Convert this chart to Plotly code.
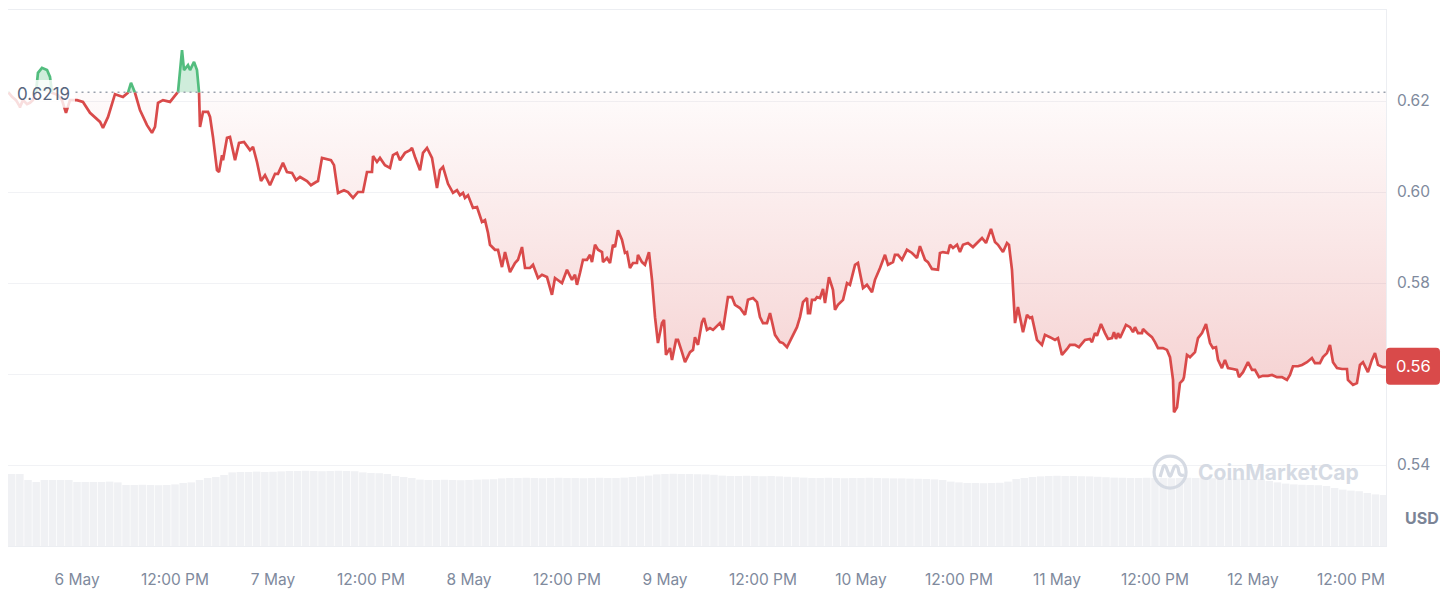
import numpy as np
import pandas as pd
import plotly.graph_objects as go

# ---------------- data ----------------
# hours since 6 May 00:00
hours = [-8.45, -7.96, -7.47, -6.98, -6.61, -6.12, -5.76, -5.39, -5.02, -4.78, -4.29, -3.67, -3.31, -3.06, -2.33, -1.84, -1.35, -0.86,
         0.0, 0.73, 1.59, 2.82, 3.18, 3.80, 4.65, 5.63, 6.24, 6.61, 7.10, 7.71, 8.57, 9.18, 9.55, 9.92, 10.53, 11.39, 12.00, 12.37,
         12.86, 13.10, 13.59, 13.84, 14.33, 14.69, 14.94, 15.06, 15.43, 16.04, 16.29, 16.65, 17.14, 17.39, 17.76, 17.88, 18.37, 18.73,
         19.35, 19.84, 20.45, 21.18, 21.55, 22.04, 22.53, 23.02, 23.63, 24.25, 24.61, 25.22, 25.71, 26.33, 26.82, 27.31, 28.16, 28.65,
         29.27, 29.51, 30.00, 31.10, 31.47, 31.96, 32.69, 33.18, 33.80, 34.41, 35.02, 35.51, 36.12, 36.25, 36.73, 37.10, 37.71, 38.33,
         38.69, 39.18, 39.55, 40.16, 40.78, 41.02, 41.39, 42.00, 42.37, 42.86, 43.47, 44.08, 44.45, 44.82, 45.43, 46.04, 46.53, 46.90,
         47.27, 47.51, 47.88, 48.49, 48.98, 49.59, 49.96, 50.33, 50.57, 51.18, 51.55, 52.04, 52.41, 53.02, 53.63, 54.00, 54.49, 54.86,
         55.47, 55.84, 56.45, 56.94, 57.55, 58.16, 58.53, 58.90, 59.39, 60.00, 60.61, 60.98, 61.22, 61.59, 61.96, 62.45, 62.82, 63.06,
         63.43, 63.80, 64.29, 64.41, 64.90, 65.27, 65.63, 65.88, 66.24, 66.73, 67.10, 67.35, 67.71, 68.08, 68.57, 68.69, 69.18, 69.55,
         70.04, 70.41, 70.78, 71.14, 71.63, 71.88, 72.12, 72.61, 72.86, 73.35, 73.59, 74.08, 74.45, 75.06, 75.43, 75.67, 76.04, 76.53,
         76.78, 77.14, 77.51, 77.88, 78.73, 79.10, 79.71, 80.20, 80.57, 81.18, 81.80, 82.16, 82.78, 83.27, 83.63, 84.00, 84.49, 84.86,
         85.47, 86.08, 86.45, 86.94, 87.55, 88.16, 88.53, 88.90, 89.39, 89.51, 89.76, 90.00, 90.37, 90.61, 90.98, 91.35, 91.59, 92.08,
         92.57, 92.82, 93.18, 93.80, 94.29, 94.65, 95.27, 95.63, 96.25, 96.73, 97.35, 97.71, 98.33, 98.94, 99.31, 99.92, 100.16, 100.53,
         101.02, 101.63, 102.25, 102.86, 103.22, 103.84, 104.20, 104.69, 105.43, 105.67, 106.04, 106.65, 106.90, 107.27, 107.76, 108.12,
         108.49, 109.10, 109.71, 110.33, 110.82, 111.31, 111.92, 112.41, 112.78, 113.39, 113.88, 114.12, 114.49, 114.86, 115.22, 115.47,
         115.84, 116.33, 116.69, 116.94, 117.55, 118.16, 118.53, 119.14, 119.76, 120.12, 120.61, 121.23, 121.59, 122.20, 122.69, 123.43,
         124.04, 124.29, 124.65, 124.90, 125.39, 125.88, 126.25, 126.74, 126.98, 127.23, 127.47, 127.72, 128.45, 128.94, 129.31, 129.55,
         129.92, 130.41, 130.53, 131.02, 131.63, 132.00, 132.37, 132.98, 133.47, 133.84, 134.21, 134.33, 134.70, 135.06, 135.43, 135.55,
         135.92, 136.29, 136.90, 137.27, 137.76, 138.25, 138.74, 139.10, 139.47, 139.72, 140.20, 140.57, 140.94, 141.55, 142.04, 142.29,
         142.78, 143.39, 143.88, 144.25, 144.49, 144.74, 145.22, 145.84, 146.33, 146.94, 147.55, 148.16, 148.53, 148.90, 149.51, 150.00,
         150.61, 151.22, 151.59, 152.20, 152.57, 153.06, 153.43, 153.80, 154.29, 154.90, 155.51, 155.63, 156.25, 156.73, 157.10, 157.47,
         158.08, 158.57, 158.94, 159.31, 159.92, 160.29]

prices = [0.6220, 0.6209, 0.6202, 0.6187, 0.6202, 0.6193, 0.6196, 0.6202, 0.6220, 0.6262, 0.6273, 0.6268, 0.6253, 0.6218, 0.6213, 0.6202, 0.6174, 0.6202,
          0.6202, 0.6198, 0.6174, 0.6154, 0.6141, 0.6165, 0.6215, 0.6209, 0.6218, 0.6240, 0.6218, 0.6180, 0.6147, 0.6130, 0.6143, 0.6196, 0.6202, 0.6198, 0.6213, 0.6220,
          0.6312, 0.6268, 0.6279, 0.6268, 0.6286, 0.6268, 0.6220, 0.6143, 0.6176, 0.6176, 0.6165, 0.6121, 0.6048, 0.6044, 0.6081, 0.6070, 0.6119, 0.6121,
          0.6070, 0.6108, 0.6110, 0.6092, 0.6099, 0.6066, 0.6024, 0.6037, 0.6015, 0.6040, 0.6040, 0.6064, 0.6044, 0.6042, 0.6026, 0.6033, 0.6024, 0.6015,
          0.6022, 0.6024, 0.6075, 0.6070, 0.6059, 0.5998, 0.6004, 0.6000, 0.5987, 0.6000, 0.6000, 0.6044, 0.6044, 0.6079, 0.6066, 0.6075, 0.6059, 0.6053,
          0.6081, 0.6086, 0.6070, 0.6086, 0.6092, 0.6097, 0.6077, 0.6048, 0.6086, 0.6097, 0.6075, 0.6009, 0.6048, 0.6055, 0.6018, 0.5998, 0.6004, 0.5993,
          0.5998, 0.5987, 0.5993, 0.5965, 0.5967, 0.5934, 0.5938, 0.5910, 0.5884, 0.5873, 0.5873, 0.5835, 0.5868, 0.5824, 0.5844, 0.5851, 0.5879, 0.5833,
          0.5833, 0.5840, 0.5811, 0.5818, 0.5813, 0.5774, 0.5811, 0.5807, 0.5800, 0.5829, 0.5807, 0.5818, 0.5796, 0.5822, 0.5851, 0.5851, 0.5862, 0.5846,
          0.5884, 0.5873, 0.5868, 0.5846, 0.5855, 0.5844, 0.5884, 0.5879, 0.5916, 0.5895, 0.5866, 0.5868, 0.5833, 0.5844, 0.5844, 0.5862, 0.5846, 0.5840,
          0.5868, 0.5807, 0.5725, 0.5668, 0.5712, 0.5719, 0.5642, 0.5657, 0.5631, 0.5675, 0.5675, 0.5648, 0.5626, 0.5648, 0.5653, 0.5681, 0.5664, 0.5714,
          0.5723, 0.5697, 0.5701, 0.5697, 0.5712, 0.5697, 0.5769, 0.5769, 0.5752, 0.5745, 0.5730, 0.5763, 0.5767, 0.5758, 0.5725, 0.5712, 0.5712, 0.5734,
          0.5686, 0.5670, 0.5668, 0.5659, 0.5681, 0.5703, 0.5725, 0.5758, 0.5767, 0.5734, 0.5734, 0.5763, 0.5763, 0.5769, 0.5767, 0.5787, 0.5756, 0.5813,
          0.5785, 0.5741, 0.5752, 0.5763, 0.5800, 0.5796, 0.5840, 0.5844, 0.5789, 0.5796, 0.5780, 0.5807, 0.5833, 0.5862, 0.5840, 0.5846, 0.5862, 0.5862,
          0.5851, 0.5873, 0.5866, 0.5855, 0.5881, 0.5851, 0.5846, 0.5831, 0.5829, 0.5866, 0.5868, 0.5866, 0.5884, 0.5877, 0.5884, 0.5868,
          0.5884, 0.5888, 0.5879, 0.5890, 0.5899, 0.5888, 0.5919, 0.5890, 0.5884, 0.5868, 0.5888, 0.5884, 0.5829, 0.5712, 0.5747, 0.5725,
          0.5692, 0.5730, 0.5723, 0.5725, 0.5675, 0.5664, 0.5686, 0.5681, 0.5675, 0.5679, 0.5642, 0.5655, 0.5664, 0.5664, 0.5659, 0.5675,
          0.5677, 0.5670, 0.5690, 0.5684, 0.5710, 0.5690, 0.5677, 0.5679, 0.5692, 0.5677, 0.5690, 0.5679, 0.5708, 0.5703, 0.5692, 0.5703,
          0.5690, 0.5690, 0.5699, 0.5690, 0.5681, 0.5670, 0.5657, 0.5657, 0.5653, 0.5637, 0.5587, 0.5516, 0.5527, 0.5580, 0.5587, 0.5593,
          0.5642, 0.5637, 0.5648, 0.5679, 0.5690, 0.5710, 0.5668, 0.5657, 0.5659, 0.5631, 0.5613, 0.5631, 0.5613, 0.5611, 0.5609, 0.5593,
          0.5604, 0.5626, 0.5609, 0.5609, 0.5602, 0.5593, 0.5596, 0.5596, 0.5598, 0.5593, 0.5593, 0.5587, 0.5598, 0.5617, 0.5617, 0.5620,
          0.5626, 0.5635, 0.5624, 0.5624, 0.5637, 0.5646, 0.5664, 0.5626, 0.5613, 0.5611, 0.5611, 0.5587, 0.5576, 0.5580, 0.5620, 0.5626,
          0.5604, 0.5631, 0.5646, 0.5620, 0.5615, 0.5615]

# hourly volume bars (hours since 6 May 00:00), millions USD
vol_hours = list(range(-8, 161))
volumes = [360, 360, 330, 320, 330, 330, 330, 330,
           320, 320, 320, 320, 322, 318,
           305, 305, 306, 305, 304, 305, 308,
           315, 318,
           330, 340, 345, 355,
           368, 370, 370, 372, 370, 371, 373,
           375, 375, 376, 375, 374, 375, 376, 375, 374,
           368, 365, 364, 360,
           350, 345, 340,
           332, 330, 330, 331, 330, 329, 330, 332, 333, 334,
           338, 340, 340, 341, 340, 339, 340, 341, 340, 340, 339, 340, 341, 340, 340, 342, 345, 348, 352,
           358, 360, 361, 360, 360, 359, 358, 356,
           352, 350, 350, 351, 350, 349, 350, 348, 346, 344,
           342, 340, 340, 341, 340, 339, 340, 340, 341, 340, 339, 338, 338, 337, 336, 335, 333, 330,
           322, 318, 315, 315, 314, 315, 316, 322,
           335, 340,
           345, 348, 350, 351, 350, 350, 349, 348, 346,
           344, 342, 341, 340, 340, 341, 340, 340, 339, 340, 341, 340, 340, 339, 338, 338, 337, 336, 335, 334,
           325, 318, 312, 308, 306, 305, 304, 300,
           290, 282, 277, 274,
           265, 258, 255]

base_price = 0.6219
last_price = 0.5617
last_price_label = "0.56"
tick_hours = [0, 12, 24, 36, 48, 60, 72, 84, 96, 108, 120, 132, 144, 156]
tick_labels = ["6 May", "12:00 PM", "7 May", "12:00 PM", "8 May", "12:00 PM", "9 May", "12:00 PM",
               "10 May", "12:00 PM", "11 May", "12:00 PM", "12 May", "12:00 PM"]
y_ticks = [0.54, 0.56, 0.58, 0.60, 0.62]
y_tick_text = ["0.54", "", "0.58", "0.60", "0.62"]   # 0.56 is shown in the last-price box

# ---------------- styling ----------------
RED = "#d94a4a"
GREEN = "#52bd7e"
GRAY_TXT = "#808a9d"
FONT = "Inter"

t0 = pd.Timestamp("2024-05-06 00:00")
def to_time(h):
    return t0 + pd.to_timedelta(np.asarray(h, dtype=float), unit="h")

# insert crossing points with the base price
xs, ys = [], []
for i in range(len(hours)):
    if i > 0 and (prices[i - 1] - base_price) * (prices[i] - base_price) < 0:
        f = (base_price - prices[i - 1]) / (prices[i] - prices[i - 1])
        xs.append(hours[i - 1] + f * (hours[i] - hours[i - 1]))
        ys.append(base_price)
    xs.append(hours[i])
    ys.append(prices[i])
xs = np.array(xs)
ys = np.array(ys)
tx = to_time(xs)
red_line = [y if y <= base_price + 1e-9 else None for y in ys]
green_line = [y if y >= base_price - 1e-9 else None for y in ys]
below = np.minimum(ys, base_price)
above = np.maximum(ys, base_price)
base_arr = np.full(len(ys), base_price)

fig = go.Figure()

# volume
fig.add_trace(go.Bar(x=to_time(vol_hours), y=volumes, yaxis="y2", marker=dict(color="#f0f1f4", line_width=0),
                     hoverinfo="skip", showlegend=False))

# fills
fig.add_trace(go.Scatter(x=tx, y=base_arr, mode="lines", line=dict(width=0), showlegend=False, hoverinfo="skip"))
fig.add_trace(go.Scatter(x=tx, y=below, mode="lines", line=dict(width=0), fill="tonexty",
                         fillgradient=dict(type="vertical", start=0.55, stop=base_price,
                                           colorscale=[[0, "rgba(217,74,74,0.27)"], [1, "rgba(217,74,74,0.02)"]]),
                         showlegend=False, hoverinfo="skip"))
fig.add_trace(go.Scatter(x=tx, y=base_arr, mode="lines", line=dict(width=0), showlegend=False, hoverinfo="skip"))
fig.add_trace(go.Scatter(x=tx, y=above, mode="lines", line=dict(width=0), fill="tonexty",
                         fillcolor="rgba(82,189,126,0.28)", showlegend=False, hoverinfo="skip"))
# lines
fig.add_trace(go.Scatter(x=tx, y=red_line, mode="lines", line=dict(color=RED, width=2.7), connectgaps=False,
                         showlegend=False))
fig.add_trace(go.Scatter(x=tx, y=green_line, mode="lines", line=dict(color=GREEN, width=2.7), connectgaps=False,
                         showlegend=False))

x_start = to_time([-8.45])[0]
x_end = to_time([160.29])[0]

# page body has an 8px margin: figure is sized to fit the 1450x602 window
fig.update_layout(
    width=1434, height=586,
    margin=dict(l=0, r=56, t=2, b=48),
    paper_bgcolor="white", plot_bgcolor="white",
    font=dict(family=FONT, color=GRAY_TXT, size=15),
    bargap=0.08,
    xaxis=dict(type="date", range=[x_start, x_end], tickvals=to_time(tick_hours), ticktext=tick_labels,
               showgrid=False, zeroline=False, showline=True, linecolor="#eceef2", mirror=True,
               ticks="outside", ticklen=19, tickcolor="rgba(0,0,0,0)", tickfont=dict(size=15.5, color=GRAY_TXT)),
    yaxis=dict(range=[0.5222, 0.6400], side="right", tickvals=y_ticks, ticktext=y_tick_text,
               showgrid=True, gridcolor="#f1f2f5", gridwidth=1, zeroline=False,
               showline=True, linecolor="#eceef2", mirror=True,
               ticks="outside", ticklen=7, tickcolor="rgba(0,0,0,0)", tickfont=dict(size=15.5, color=GRAY_TXT)),
    yaxis2=dict(range=[0, 2680], overlaying="y", visible=False, showgrid=False),
)

shapes = []
# dotted base line
shapes.append(dict(type="line", xref="paper", yref="y", x0=0.049, x1=1, y0=base_price, y1=base_price,
                   line=dict(color="#9aa1ad", width=1.5, dash="2px,4px"), layer="above"))
# faded box behind base label
shapes.append(dict(type="rect", xref="paper", yref="y", x0=0, x1=0.0486, y0=0.6185, y1=0.6246,
                   fillcolor="rgba(255,255,255,0.82)", line=dict(width=0), layer="above"))
# last price rounded box
shapes.append(dict(type="path", xref="paper", yref="y", xsizemode="pixel", ysizemode="pixel",
                   xanchor=1, yanchor=last_price,
                   path="M 4,-18.5 L 50,-18.5 Q 54,-18.5 54,-14.5 L 54,14.5 Q 54,18.5 50,18.5 L 4,18.5 Q 0,18.5 0,14.5 L 0,-14.5 Q 0,-18.5 4,-18.5 Z",
                   fillcolor=RED, line=dict(width=0), layer="above"))
# watermark logo
wm_color = "#d5dae3"
shapes.append(dict(type="circle", xref="paper", yref="paper", xsizemode="pixel", ysizemode="pixel",
                   xanchor=0.8433, yanchor=0.138, x0=-16, x1=16, y0=-16, y1=16,
                   line=dict(color=wm_color, width=3.2), fillcolor="rgba(0,0,0,0)", layer="above"))
shapes.append(dict(type="path", xref="paper", yref="paper", xsizemode="pixel", ysizemode="pixel",
                   xanchor=0.8433, yanchor=0.138,
                   path="M -10,-5 L -7,5 Q -6,8 -4,5 L -1,-3 Q 0,-5 1,-3 L 4,5 Q 6,8 8,4 L 9,-1 Q 10,-4 14,-3",
                   line=dict(color=wm_color, width=3.2), fillcolor="rgba(0,0,0,0)", layer="above"))
fig.update_layout(shapes=shapes)

annotations = [
    dict(xref="paper", yref="y", x=0, y=base_price, xanchor="left", yanchor="middle", xshift=7, yshift=-2,
         text="0.6219", showarrow=False, font=dict(family=FONT, size=17, color="#58667e")),
    dict(xref="paper", yref="y", x=1, y=last_price, xanchor="center", yanchor="middle", xshift=27,
         text=last_price_label, showarrow=False, font=dict(family=FONT, size=16.5, color="white")),
    dict(xref="paper", yref="paper", x=1, y=0.052, xanchor="left", yanchor="middle", xshift=17,
         text="<b>USD</b>", showarrow=False, font=dict(family=FONT, size=16, color="#7b8496")),
    dict(xref="paper", yref="paper", x=0.9223, y=0.138, xanchor="center", yanchor="middle",
         text="<b>CoinMarketCap</b>", showarrow=False, font=dict(family=FONT, size=21, color=wm_color)),
]
fig.update_layout(annotations=annotations)

fig.write_html("out.html")
